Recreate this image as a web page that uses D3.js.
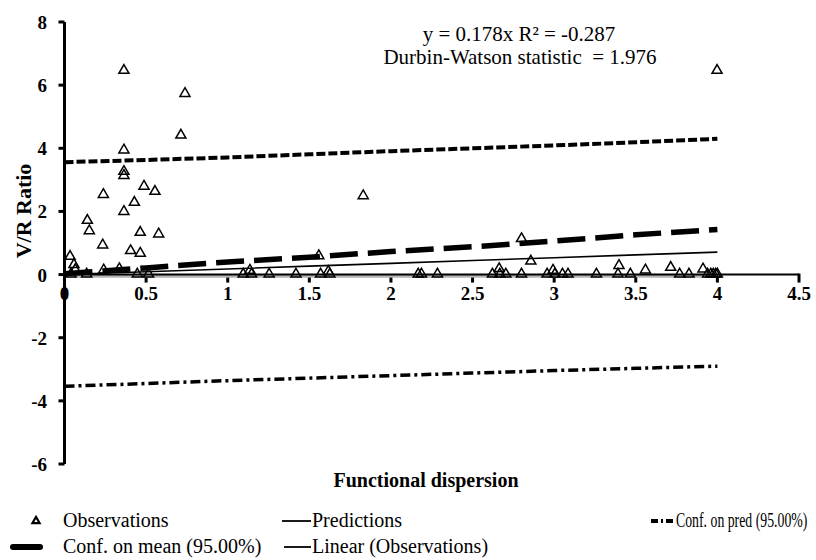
<!DOCTYPE html>
<html>
<head>
<meta charset="utf-8">
<script src="https://cdn.jsdelivr.net/npm/d3@7/dist/d3.min.js"></script>
<style>
  html, body { margin: 0; padding: 0; background: #fff; }
  text { font-family: "Liberation Serif", "Times New Roman", Times, "DejaVu Serif", serif; white-space: pre; }
</style>
</head>
<body>
<svg id="chart" width="816" height="560"></svg>
<script>
// Observations: functional dispersion (x) vs V/R ratio (y)
const obsX = [
  0.364, 0.738, 0.713, 0.364, 0.364, 0.364, 0.487, 0.554, 0.238, 0.428,
  0.364, 0.140, 0.152, 0.464, 0.577, 0.234, 0.405, 0.464, 0.034, 0.058,
  0.066, 0.040, 0.136, 0.240, 0.336, 0.446, 0.515,
  1.095, 1.136, 1.146, 1.254, 1.418, 1.558, 1.569, 1.616, 1.626, 1.830,
  2.167, 2.187, 2.285, 2.622, 2.663, 2.667, 2.704, 2.800, 2.800, 2.857,
  2.957, 2.993, 3.004, 3.051, 3.085, 3.259, 3.397, 3.391, 3.467, 3.559,
  3.714, 3.769, 3.826, 3.912, 3.940, 3.960, 3.975, 3.990, 4.000, 3.998
];
const obsY = [
  6.45, 5.72, 4.40, 3.93, 3.25, 3.12, 2.78, 2.62, 2.52, 2.27,
  1.98, 1.70, 1.37, 1.32, 1.27, 0.92, 0.74, 0.66, 0.56, 0.30,
  0.14, 0.00, 0.00, 0.13, 0.17, 0.00, 0.00,
  0.00, 0.12, 0.00, 0.00, 0.00, 0.58, 0.00, 0.08, 0.00, 2.48,
  0.00, 0.00, 0.00, 0.00, 0.17, 0.00, 0.00, 0.00, 1.12, 0.41,
  0.00, 0.12, 0.00, 0.00, 0.00, 0.00, 0.27, 0.00, 0.00, 0.13,
  0.21, 0.00, 0.00, 0.16, 0.00, 0.00, 0.00, 0.00, 0.00, 6.45
];

// Fitted model and its bands, sampled along x
const bandX     = [0, 0.5, 1, 1.5, 2, 2.5, 3, 3.5, 4];
const predY     = [0, 0.089, 0.178, 0.267, 0.356, 0.445, 0.534, 0.623, 0.712];
const meanUpper = [0.03, 0.21, 0.40, 0.55, 0.73, 0.88, 1.06, 1.26, 1.43];
const meanLower = [-0.05, -0.05, -0.05, -0.05, -0.05, -0.05, -0.05, -0.05, -0.05];
const predUpper = [3.56, 3.63, 3.71, 3.81, 3.91, 4.00, 4.09, 4.19, 4.30];
const predLower = [-3.54, -3.45, -3.36, -3.28, -3.20, -3.12, -3.04, -2.97, -2.90];

const xTicks = [0, 0.5, 1, 1.5, 2, 2.5, 3, 3.5, 4, 4.5];
const yTicks = [-6, -4, -2, 0, 2, 4, 6, 8];

const eqText = "y = 0.178x R\u00B2 = -0.287";
const dwText = "Durbin-Watson statistic  = 1.976";
const xTitle = "Functional dispersion";
const yTitle = "V/R Ratio";
const legendNames = ["Observations", "Predictions", "Conf. on pred (95.00%)",
                     "Conf. on mean (95.00%)", "Linear (Observations)"];

const svg = d3.select("#chart");
const x = d3.scaleLinear().domain([0, 4.5]).range([64.5, 799]);
const y = d3.scaleLinear().domain([-6, 8]).range([464, 22]);

const line = (ys) => d3.line().x((d, i) => x(bandX[i])).y(d => y(d))(ys);

// lower mean bound (grey, lies along the zero line)
svg.append("path").attr("d", line(meanLower))
  .attr("fill", "none").attr("stroke", "#b4b4b4").attr("stroke-width", 3);

// X axis at y = 0
const xAxisG = svg.append("g");
xAxisG.append("line")
  .attr("x1", x(0)).attr("x2", x(4.5)).attr("y1", y(0)).attr("y2", y(0))
  .attr("stroke", "#000").attr("stroke-width", 2);
xAxisG.selectAll("rect.tick").data(xTicks.filter(d => d > 0)).join("rect")
  .attr("x", d => x(d) - 1.5).attr("y", d => d === 4.5 ? y(0) - 1 : y(0) + 3)
  .attr("width", 3).attr("height", d => d === 4.5 ? 9 : 5).attr("fill", "#000");
xAxisG.selectAll("text").data(xTicks).join("text")
  .attr("x", d => x(d)).attr("y", 300)
  .attr("text-anchor", "middle").attr("font-size", 19).attr("font-weight", "bold")
  .text(d => d3.format("")(d));

// Y axis
const yAxisG = svg.append("g");
yAxisG.append("line")
  .attr("x1", x(0)).attr("x2", x(0)).attr("y1", y(8)).attr("y2", y(-6))
  .attr("stroke", "#000").attr("stroke-width", 3);
yAxisG.selectAll("line.tick").data(yTicks).join("line").attr("class", "tick")
  .attr("x1", x(0) - 6).attr("x2", x(0)).attr("y1", d => y(d)).attr("y2", d => y(d))
  .attr("stroke", "#000").attr("stroke-width", 3);
yAxisG.selectAll("text").data(yTicks).join("text")
  .attr("x", 47).attr("y", d => y(d) + 7)
  .attr("text-anchor", "end").attr("font-size", 19).attr("font-weight", "bold")
  .text(d => d);

// Prediction bands
svg.append("path").attr("d", line(predUpper))
  .attr("fill", "none").attr("stroke", "#000").attr("stroke-width", 4)
  .attr("stroke-dasharray", "9,3");
svg.append("path").attr("d", line(predLower))
  .attr("fill", "none").attr("stroke", "#000").attr("stroke-width", 3.5)
  .attr("stroke-dasharray", "10,4,3,4");

// Confidence on the mean (upper)
svg.append("path").attr("d", line(meanUpper))
  .attr("fill", "none").attr("stroke", "#000").attr("stroke-width", 5.5)
  .attr("stroke-dasharray", "28,10");

// Predictions / linear trend
svg.append("path").attr("d", line(predY))
  .attr("fill", "none").attr("stroke", "#000").attr("stroke-width", 1.6);

// Observations (open triangles)
const tri = d3.symbol().type(d3.symbolTriangle).size(44);
svg.append("g").selectAll("path").data(obsX.map((v, i) => [v, obsY[i]])).join("path")
  .attr("d", tri)
  .attr("transform", d => `translate(${x(d[0])},${y(d[1]) - 0.5})`)
  .attr("fill", "none").attr("stroke", "#000").attr("stroke-width", 1.5);

// Equation annotation
svg.append("text").attr("x", 519).attr("y", 41).attr("text-anchor", "middle")
  .attr("font-size", 21).text(eqText);
svg.append("text").attr("x", 520).attr("y", 64).attr("text-anchor", "middle")
  .attr("font-size", 21).text(dwText);

// Axis titles
svg.append("text").attr("x", 426).attr("y", 487).attr("text-anchor", "middle")
  .attr("font-size", 20).attr("font-weight", "bold").text(xTitle);
svg.append("text").attr("transform", "translate(31,211) rotate(-90)")
  .attr("text-anchor", "middle").attr("font-size", 22).attr("font-weight", "bold")
  .text(yTitle);

// Legend
const lg = svg.append("g").attr("font-size", 20);
const row1 = 521, row2 = 547;
lg.append("path").attr("d", d3.symbol().type(d3.symbolTriangle).size(22)())
  .attr("transform", `translate(36,${row1})`)
  .attr("fill", "none").attr("stroke", "#000").attr("stroke-width", 2.2);
lg.append("text").attr("x", 63).attr("y", row1 + 6).text(legendNames[0]);

lg.append("line").attr("x1", 282).attr("x2", 311).attr("y1", row1).attr("y2", row1)
  .attr("stroke", "#000").attr("stroke-width", 1.8);
lg.append("text").attr("x", 312).attr("y", row1 + 6).text(legendNames[1]);

lg.append("line").attr("x1", 651).attr("x2", 673).attr("y1", row1).attr("y2", row1)
  .attr("stroke", "#000").attr("stroke-width", 4).attr("stroke-dasharray", "7,3,2,3");
// narrow entry at the right edge: compressed horizontally only
lg.append("text").attr("transform", `translate(676,${row1 + 6}) scale(0.69,1)`)
  .text(legendNames[2]);

lg.append("line").attr("x1", 13).attr("x2", 40).attr("y1", row2).attr("y2", row2)
  .attr("stroke", "#000").attr("stroke-width", 6).attr("stroke-linecap", "round");
lg.append("text").attr("x", 63).attr("y", row2 + 6).text(legendNames[3]);

lg.append("line").attr("x1", 284).attr("x2", 311).attr("y1", row2).attr("y2", row2)
  .attr("stroke", "#000").attr("stroke-width", 1.8);
lg.append("text").attr("x", 312).attr("y", row2 + 6).text(legendNames[4]);
</script>
</body>
</html>
